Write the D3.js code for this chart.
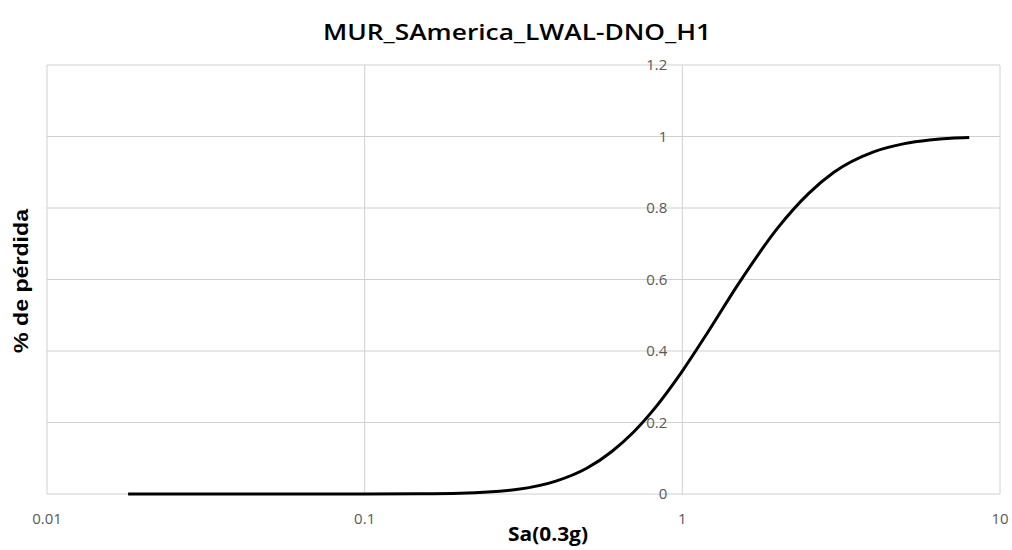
<!DOCTYPE html>
<html lang="en">
<head>
    <meta charset="UTF-8">
    <title>MUR_SAmerica_LWAL-DNO_H1</title>
    <style>
        body { margin: 0; padding: 0; background: #fff; overflow: hidden; }
        svg { display: block; }
    </style>
</head>
<body>
    <div id="chart"></div>
    <script src="https://d3js.org/d3.v7.min.js"></script>
    <script>
        // values
        const sa = [0.018, 0.05, 0.1, 0.15, 0.2, 0.3, 0.4, 0.5, 0.6, 0.7, 0.8, 1, 1.2, 1.5, 2, 2.5, 3, 4, 5, 6, 7, 8];
        const loss = [0, 0, 0, 0.0005, 0.002, 0.0125, 0.036, 0.072, 0.119, 0.172, 0.229, 0.344, 0.451, 0.587, 0.745, 0.841, 0.9, 0.957, 0.98, 0.99, 0.995, 0.997];
        const xTicks = [0.01, 0.1, 1, 10];
        const yTicks = [0, 0.2, 0.4, 0.6, 0.8, 1, 1.2];

        const width = 1012, height = 550;
        const plotLeft = 47, plotRight = 1000, plotTop = 65, plotBottom = 494;

        const svg = d3.select('#chart').append('svg')
            .attr('width', width)
            .attr('height', height);

        const x = d3.scaleLog().domain([0.01, 10]).range([plotLeft, plotRight]);
        const y = d3.scaleLinear().domain([0, 1.2]).range([plotBottom, plotTop]);

        // grid
        svg.append('g').selectAll('line')
            .data(yTicks).enter().append('line')
            .attr('x1', plotLeft).attr('x2', plotRight)
            .attr('y1', d => y(d)).attr('y2', d => y(d))
            .attr('stroke', '#d0d0d0').attr('stroke-width', 1);

        svg.append('g').selectAll('line')
            .data(xTicks).enter().append('line')
            .attr('x1', d => x(d)).attr('x2', d => x(d))
            .attr('y1', plotTop).attr('y2', plotBottom)
            .attr('stroke', '#d0d0d0').attr('stroke-width', 1);

        // y tick labels sit at x = 1 (axis crosses there)
        svg.append('g').selectAll('text')
            .data(yTicks).enter().append('text')
            .attr('x', x(1) - 15)
            .attr('y', d => y(d) + 5)
            .attr('text-anchor', 'end')
            .attr('font-family', 'Open Sans, sans-serif')
            .attr('font-size', 15)
            .attr('fill', '#595959')
            .text(d => d);

        // x tick labels
        svg.append('g').selectAll('text')
            .data(xTicks).enter().append('text')
            .attr('x', d => x(d))
            .attr('y', 524)
            .attr('text-anchor', 'middle')
            .attr('font-family', 'Open Sans, sans-serif')
            .attr('font-size', 15)
            .attr('fill', '#595959')
            .text(d => d);

        // curve
        const line = d3.line()
            .x((d, i) => x(sa[i]))
            .y(d => y(d))
            .curve(d3.curveMonotoneX);

        svg.append('path')
            .datum(loss)
            .attr('d', line)
            .attr('fill', 'none')
            .attr('stroke', '#000')
            .attr('stroke-width', 3);

        // titles
        svg.append('text')
            .attr('x', 517).attr('y', 40)
            .attr('text-anchor', 'middle')
            .attr('font-family', 'Open Sans, sans-serif')
            .attr('font-weight', 600)
            .attr('font-size', 21)
            .attr('fill', '#000')
            .attr('textLength', 388).attr('lengthAdjust', 'spacingAndGlyphs')
            .text('MUR_SAmerica_LWAL-DNO_H1');

        svg.append('text')
            .attr('x', 548).attr('y', 541)
            .attr('text-anchor', 'middle')
            .attr('font-family', 'Open Sans, sans-serif')
            .attr('font-weight', 700)
            .attr('font-size', 19)
            .attr('textLength', 80).attr('lengthAdjust', 'spacingAndGlyphs')
            .text('Sa(0.3g)');

        svg.append('text')
            .attr('transform', 'translate(28,' + 281 + ') rotate(-90)')
            .attr('text-anchor', 'middle')
            .attr('font-family', 'Liberation Sans, Arial, sans-serif')
            .attr('font-weight', 700)
            .attr('font-size', 21)
            .attr('textLength', 144).attr('lengthAdjust', 'spacingAndGlyphs')
            .text('% de pérdida');
    </script>
</body>
</html>
